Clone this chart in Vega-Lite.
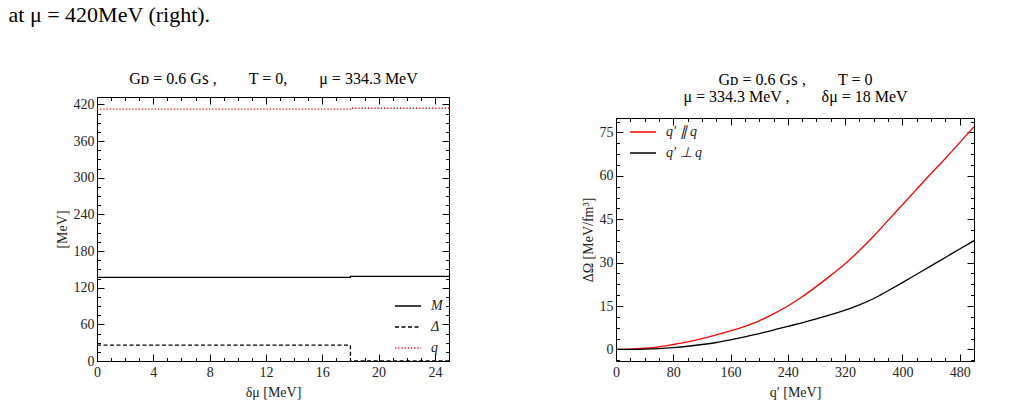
{
  "$schema": "https://vega.github.io/schema/vega-lite/v6.json",
  "background": "white",
  "padding": {"left": 8, "top": 4, "right": 5, "bottom": 5},
  "title": {
    "text": "at μ = 420MeV (right).",
    "anchor": "start",
    "font": "Liberation Serif",
    "fontSize": 22,
    "fontWeight": "normal",
    "color": "black",
    "dx": -46,
    "offset": 43
  },
  "config": {
    "view": {"stroke": "black", "strokeWidth": 1},
    "axis": {
      "grid": false,
      "domain": false,
      "domainColor": "black",
      "domainWidth": 1,
      "labelFont": "Liberation Serif",
      "labelFontSize": 14,
      "labelColor": "#222",
      "labelOverlap": false,
      "labelFlush": false,
      "titleFont": "Liberation Serif",
      "titleFontSize": 14,
      "titleFontWeight": "normal",
      "titleColor": "#222",
      "tickColor": "black",
      "tickWidth": 1
    },
    "legend": {
      "labelFont": "Liberation Serif",
      "labelFontSize": 14,
      "labelFontStyle": "italic",
      "labelColor": "#222",
      "labelOffset": 9,
      "symbolType": "stroke",
      "symbolSize": 676,
      "symbolStrokeWidth": 1.5,
      "title": null
    }
  },
  "resolve": {
    "scale": {"color": "independent", "strokeDash": "independent"},
    "legend": {"color": "independent", "strokeDash": "independent"}
  },
  "columns": 2,
  "align": "none",
  "spacing": 131,
  "concat": [
    {
      "width": 352,
      "height": 264,
      "data": {
        "values": [
          {"i": 0, "dmu": 0, "value": 137, "series": "M"},
          {"i": 1, "dmu": 18, "value": 137, "series": "M"},
          {"i": 2, "dmu": 18, "value": 138.5, "series": "M"},
          {"i": 3, "dmu": 25, "value": 138.5, "series": "M"},
          {"i": 0, "dmu": 0, "value": 26, "series": "Δ"},
          {"i": 1, "dmu": 18, "value": 26, "series": "Δ"},
          {"i": 2, "dmu": 18, "value": 0, "series": "Δ"},
          {"i": 3, "dmu": 25, "value": 0, "series": "Δ"},
          {"i": 0, "dmu": 0, "value": 412, "series": "q"},
          {"i": 1, "dmu": 18, "value": 412, "series": "q"},
          {"i": 2, "dmu": 18, "value": 413.6, "series": "q"},
          {"i": 3, "dmu": 25, "value": 413.6, "series": "q"}
        ]
      },
      "resolve": {"axis": {"x": "independent", "y": "independent"}},
      "layer": [
        {
          "mark": {"type": "line", "strokeWidth": 1.3, "clip": true},
          "encoding": {
            "x": {
              "field": "dmu", "type": "quantitative",
              "scale": {"domain": [0, 25], "nice": false},
              "axis": {
                "title": "δμ [MeV]",
                "orient": "bottom",
                "values": [0,1,2,3,4,5,6,7,8,9,10,11,12,13,14,15,16,17,18,19,20,21,22,23,24,25],
                "labelExpr": "datum.value % 4 === 0 ? datum.label : ''",
                "tickSize": {"condition": {"test": "datum.value % 4 === 0", "value": -7}, "value": -3.5},
                "labelPadding": 11,
                "titlePadding": 3
              }
            },
            "y": {
              "field": "value", "type": "quantitative",
              "scale": {"domain": [0, 432], "nice": false},
              "axis": {
                "title": "[MeV]",
                "orient": "left",
                "values": [0,15,30,45,60,75,90,105,120,135,150,165,180,195,210,225,240,255,270,285,300,315,330,345,360,375,390,405,420],
                "labelExpr": "datum.value % 60 === 0 ? datum.label : ''",
                "tickSize": {"condition": {"test": "datum.value % 60 === 0", "value": -7}, "value": -3.5},
                "labelPadding": 10,
                "titlePadding": 4
              }
            },
            "order": {"field": "i", "type": "quantitative"},
            "color": {
              "field": "series", "type": "nominal",
              "scale": {"domain": ["M", "Δ", "q"], "range": ["black", "black", "red"]},
              "legend": {"orient": "bottom-right", "offset": 6, "rowPadding": -4, "symbolOffset": -10}
            },
            "strokeDash": {
              "field": "series", "type": "nominal",
              "scale": {"domain": ["M", "Δ", "q"], "range": [[1, 0], [4, 2.5], [1.2, 2]]}
            }
          }
        },
        {
          "mark": {"type": "line", "opacity": 0},
          "encoding": {
            "x": {
              "field": "dmu", "type": "quantitative",
              "axis": {
                "title": "Gᴅ = 0.6 Gꜱ ,\u2003\u2003T = 0,\u2003\u2003μ = 334.3 MeV",
                "titleFontSize": 16,
                "titleColor": "black",
                "titlePadding": 10,
                "orient": "top", "labels": false,
                "values": [0,1,2,3,4,5,6,7,8,9,10,11,12,13,14,15,16,17,18,19,20,21,22,23,24,25],
                "tickSize": {"condition": {"test": "datum.value % 4 === 0", "value": -7}, "value": -3.5}
              }
            },
            "y": {
              "field": "value", "type": "quantitative",
              "axis": {
                "title": null, "orient": "right", "labels": false,
                "values": [0,15,30,45,60,75,90,105,120,135,150,165,180,195,210,225,240,255,270,285,300,315,330,345,360,375,390,405,420],
                "tickSize": {"condition": {"test": "datum.value % 60 === 0", "value": -7}, "value": -3.5}
              }
            },
            "detail": {"field": "series"}
          }
        }
      ]
    },
    {
      "width": 358,
      "height": 264,
      "view": {"stroke": null},
      "data": {
        "values": [
          {"qp": 0, "domega": 0, "dir": "q′ ∥ q"},
          {"qp": 20, "domega": 0.1, "dir": "q′ ∥ q"},
          {"qp": 40, "domega": 0.4, "dir": "q′ ∥ q"},
          {"qp": 60, "domega": 0.9, "dir": "q′ ∥ q"},
          {"qp": 80, "domega": 1.7, "dir": "q′ ∥ q"},
          {"qp": 100, "domega": 2.6, "dir": "q′ ∥ q"},
          {"qp": 120, "domega": 3.7, "dir": "q′ ∥ q"},
          {"qp": 140, "domega": 5.0, "dir": "q′ ∥ q"},
          {"qp": 160, "domega": 6.4, "dir": "q′ ∥ q"},
          {"qp": 180, "domega": 8.0, "dir": "q′ ∥ q"},
          {"qp": 200, "domega": 9.9, "dir": "q′ ∥ q"},
          {"qp": 220, "domega": 12.3, "dir": "q′ ∥ q"},
          {"qp": 240, "domega": 15.0, "dir": "q′ ∥ q"},
          {"qp": 260, "domega": 18.2, "dir": "q′ ∥ q"},
          {"qp": 280, "domega": 21.8, "dir": "q′ ∥ q"},
          {"qp": 300, "domega": 25.6, "dir": "q′ ∥ q"},
          {"qp": 320, "domega": 29.6, "dir": "q′ ∥ q"},
          {"qp": 340, "domega": 34.2, "dir": "q′ ∥ q"},
          {"qp": 360, "domega": 39.2, "dir": "q′ ∥ q"},
          {"qp": 380, "domega": 44.6, "dir": "q′ ∥ q"},
          {"qp": 400, "domega": 50.0, "dir": "q′ ∥ q"},
          {"qp": 420, "domega": 55.4, "dir": "q′ ∥ q"},
          {"qp": 440, "domega": 60.8, "dir": "q′ ∥ q"},
          {"qp": 460, "domega": 66.0, "dir": "q′ ∥ q"},
          {"qp": 480, "domega": 71.5, "dir": "q′ ∥ q"},
          {"qp": 500, "domega": 77.0, "dir": "q′ ∥ q"},
          {"qp": 0, "domega": 0, "dir": "q′ ⊥ q"},
          {"qp": 20, "domega": 0.02, "dir": "q′ ⊥ q"},
          {"qp": 40, "domega": 0.1, "dir": "q′ ⊥ q"},
          {"qp": 60, "domega": 0.3, "dir": "q′ ⊥ q"},
          {"qp": 80, "domega": 0.65, "dir": "q′ ⊥ q"},
          {"qp": 100, "domega": 1.1, "dir": "q′ ⊥ q"},
          {"qp": 120, "domega": 1.7, "dir": "q′ ⊥ q"},
          {"qp": 140, "domega": 2.4, "dir": "q′ ⊥ q"},
          {"qp": 160, "domega": 3.3, "dir": "q′ ⊥ q"},
          {"qp": 180, "domega": 4.3, "dir": "q′ ⊥ q"},
          {"qp": 200, "domega": 5.5, "dir": "q′ ⊥ q"},
          {"qp": 220, "domega": 6.7, "dir": "q′ ⊥ q"},
          {"qp": 240, "domega": 8.0, "dir": "q′ ⊥ q"},
          {"qp": 260, "domega": 9.2, "dir": "q′ ⊥ q"},
          {"qp": 280, "domega": 10.6, "dir": "q′ ⊥ q"},
          {"qp": 300, "domega": 12.0, "dir": "q′ ⊥ q"},
          {"qp": 320, "domega": 13.6, "dir": "q′ ⊥ q"},
          {"qp": 340, "domega": 15.4, "dir": "q′ ⊥ q"},
          {"qp": 360, "domega": 17.6, "dir": "q′ ⊥ q"},
          {"qp": 380, "domega": 20.3, "dir": "q′ ⊥ q"},
          {"qp": 400, "domega": 23.1, "dir": "q′ ⊥ q"},
          {"qp": 420, "domega": 26.0, "dir": "q′ ⊥ q"},
          {"qp": 440, "domega": 28.9, "dir": "q′ ⊥ q"},
          {"qp": 460, "domega": 31.8, "dir": "q′ ⊥ q"},
          {"qp": 480, "domega": 34.7, "dir": "q′ ⊥ q"},
          {"qp": 500, "domega": 37.6, "dir": "q′ ⊥ q"}
        ]
      },
      "resolve": {"axis": {"x": "independent", "y": "independent"}},
      "layer": [
        {
          "mark": {"type": "line", "strokeWidth": 1.3, "interpolate": "monotone", "clip": true},
          "encoding": {
            "x": {
              "field": "qp", "type": "quantitative",
              "scale": {"domain": [0, 500], "nice": false},
              "axis": {
                "title": "q′ [MeV]",
                "orient": "bottom",
                "domain": true,
                "values": [0,20,40,60,80,100,120,140,160,180,200,220,240,260,280,300,320,340,360,380,400,420,440,460,480,500],
                "labelExpr": "datum.value % 80 === 0 ? datum.label : ''",
                "tickSize": {"condition": {"test": "datum.value % 80 === 0", "value": -7}, "value": -3.5},
                "labelPadding": 11,
                "titlePadding": 3
              }
            },
            "y": {
              "field": "domega", "type": "quantitative",
              "scale": {"domain": [-4, 80], "nice": false, "zero": false, "range": [264, 21]},
              "axis": {
                "title": "ΔΩ [MeV/fm³]",
                "orient": "left",
                "domain": true,
                "values": [-3.75,0,3.75,7.5,11.25,15,18.75,22.5,26.25,30,33.75,37.5,41.25,45,48.75,52.5,56.25,60,63.75,67.5,71.25,75,78.75],
                "labelExpr": "datum.value % 15 === 0 ? datum.label : ''",
                "tickSize": {"condition": {"test": "datum.value % 15 === 0", "value": -7}, "value": -3.5},
                "labelPadding": 10,
                "titlePadding": 4
              }
            },
            "color": {
              "field": "dir", "type": "nominal",
              "scale": {"domain": ["q′ ∥ q", "q′ ⊥ q"], "range": ["red", "black"]},
              "legend": {"orient": "top-left", "offset": 21, "rowPadding": -6, "symbolOffset": -8}
            }
          }
        },
        {
          "mark": {"type": "line", "opacity": 0},
          "encoding": {
            "x": {
              "field": "qp", "type": "quantitative",
              "axis": {
                "title": ["Gᴅ = 0.6 Gꜱ ,\u2003\u2003T = 0", "μ = 334.3 MeV ,\u2003\u2003δμ = 18 MeV"],
                "titleFontSize": 16,
                "titleColor": "black",
                "titleLineHeight": 17,
                "titlePadding": 13,
                "orient": "top", "labels": false,
                "domain": true,
                "offset": -21,
                "values": [0,20,40,60,80,100,120,140,160,180,200,220,240,260,280,300,320,340,360,380,400,420,440,460,480,500],
                "tickSize": {"condition": {"test": "datum.value % 80 === 0", "value": -7}, "value": -3.5}
              }
            },
            "y": {
              "field": "domega", "type": "quantitative",
              "axis": {
                "title": null, "orient": "right", "labels": false,
                "domain": true,
                "values": [-3.75,0,3.75,7.5,11.25,15,18.75,22.5,26.25,30,33.75,37.5,41.25,45,48.75,52.5,56.25,60,63.75,67.5,71.25,75,78.75],
                "tickSize": {"condition": {"test": "datum.value % 15 === 0", "value": -7}, "value": -3.5}
              }
            },
            "detail": {"field": "dir"}
          }
        }
      ]
    }
  ]
}
